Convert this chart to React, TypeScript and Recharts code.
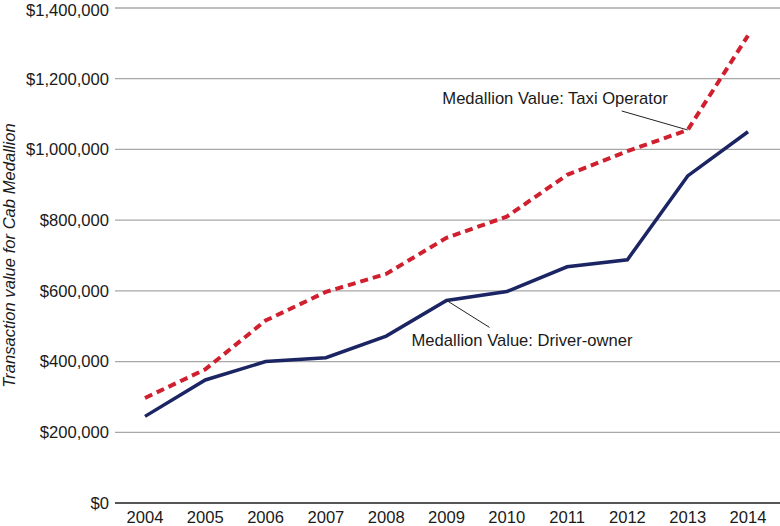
import React from 'react';
import { LineChart, Line, XAxis, YAxis, CartesianGrid, Label } from 'recharts';

const years = ['2004', '2005', '2006', '2007', '2008', '2009', '2010', '2011', '2012', '2013', '2014'];
const driverOwner = [245000, 348000, 400000, 411000, 472000, 573000, 598000, 668000, 688000, 925000, 1050000];
const taxiOperator = [297000, 378000, 516000, 597000, 648000, 750000, 810000, 928000, 995000, 1055000, 1322000];
const yTicks = [0, 200000, 400000, 600000, 800000, 1000000, 1200000, 1400000];

const data = years.map((year, i) => ({ year, driver: driverOwner[i], operator: taxiOperator[i] }));

const fmt = (v: number) => '$' + v.toLocaleString('en-US');
const FONT = '"Liberation Sans", Arial, Helvetica, sans-serif';
const FS = 16.6;

const OperatorLabel = (props: any) => {
  const { x, y, index } = props;
  if (index !== 9) return null;
  return (
    <g>
      <line x1={x} y1={y} x2={x - 66} y2={y - 19} stroke="#222" strokeWidth={1} />
      <text x={x - 20} y={y - 26} textAnchor="end" fontSize={FS} fontFamily={FONT} fill="#1a1a1a">
        Medallion Value: Taxi Operator
      </text>
    </g>
  );
};

const DriverLabel = (props: any) => {
  const { x, y, index } = props;
  if (index !== 5) return null;
  return (
    <g>
      <line x1={x} y1={y} x2={x + 43} y2={y + 27} stroke="#222" strokeWidth={1} />
      <text x={x - 35} y={y + 46} textAnchor="start" fontSize={FS} fontFamily={FONT} fill="#1a1a1a">
        Medallion Value: Driver-owner
      </text>
    </g>
  );
};

const YTitle = (props: any) => {
  const vb = props.viewBox || { x: 0, y: 8, width: 115, height: 495 };
  const cx = 15;
  const cy = vb.y + vb.height / 2;
  return (
    <text
      x={cx}
      y={cy}
      textAnchor="middle"
      fontSize={FS}
      fontStyle="italic"
      fontFamily={FONT}
      fill="#1a1a1a"
      transform={`rotate(-90, ${cx}, ${cy})`}
    >
      Transaction value for Cab Medallion
    </text>
  );
};

export default function App() {
  return (
    <div style={{ position: 'absolute', left: 0, top: 0, width: 780, height: 526, background: '#fff' }}>
      <LineChart width={780} height={526} data={data} margin={{ top: 8, right: 0, left: 0, bottom: 0 }}>
        <CartesianGrid vertical={false} stroke="#a8a8a8" strokeWidth={1.3} />
        <XAxis
          dataKey="year"
          height={23}
          padding={{ left: 30, right: 32 }}
          tickLine={false}
          tickSize={0}
          tickMargin={8}
          axisLine={{ stroke: '#333', strokeWidth: 1.3 }}
          tick={{ fontSize: FS, fontFamily: FONT, fill: '#1a1a1a' }}
          interval={0}
        />
        <YAxis
          width={115}
          domain={[0, 1400000]}
          ticks={yTicks}
          tickFormatter={fmt}
          axisLine={false}
          tickLine={false}
          tickSize={0}
          tickMargin={6}
          tick={{ fontSize: FS, fontFamily: FONT, fill: '#1a1a1a' }}
        >
          <Label content={<YTitle />} />
        </YAxis>
        <Line
          type="linear"
          dataKey="operator"
          stroke="#d01f2e"
          strokeWidth={4}
          strokeDasharray="8 5"
          dot={false}
          activeDot={false}
          isAnimationActive={false}
          label={<OperatorLabel />}
        />
        <Line
          type="linear"
          dataKey="driver"
          stroke="#1c2563"
          strokeWidth={3.5}
          dot={false}
          activeDot={false}
          isAnimationActive={false}
          label={<DriverLabel />}
        />
      </LineChart>
    </div>
  );
}
